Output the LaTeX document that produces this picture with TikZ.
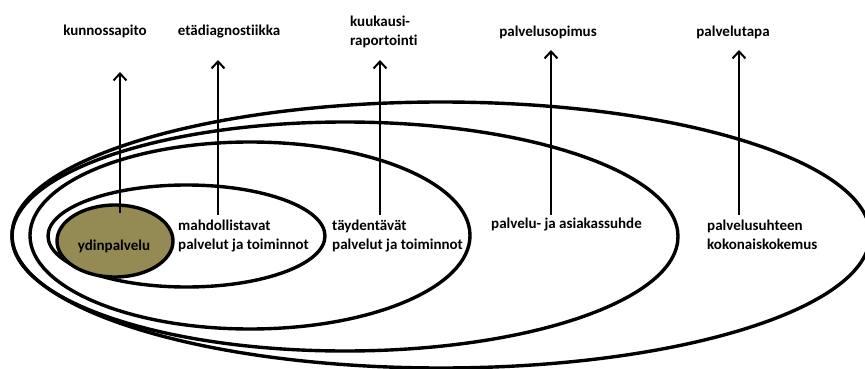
\documentclass[tikz,border=0pt]{standalone}
\usepackage{fontspec}
\setmainfont{Carlito}[Ligatures=NoCommon]
\usetikzlibrary{arrows.meta,shapes.geometric}
\definecolor{coreolive}{HTML}{948A54}
\begin{document}
\begin{tikzpicture}[x=1pt,y=-1pt,
  ring/.style={draw=black, line width=3.4pt, ellipse, inner sep=0pt, outer sep=0pt},
  lbl/.style={font=\fontsize{15}{19}\selectfont\bfseries, inner sep=0pt, align=left, text=black},
  riser/.style={line width=2pt, -{Straight Barb[length=7pt,width=13pt]}}
]
\useasboundingbox (0,0) rectangle (865,369);
\clip (0,0) rectangle (865,369);

% nested service layers, outermost first
\node[ring, minimum width=858pt, minimum height=266pt] (total) at (441,235) {};
\node[ring, minimum width=666pt, minimum height=229pt] (relation) at (345,236.5) {};
\node[ring, minimum width=440pt, minimum height=187pt] (supp) at (250,235.5) {};
\node[ring, minimum width=277pt, minimum height=102pt] (enab) at (186.5,236) {};
\node[ring, fill=coreolive, minimum width=116pt, minimum height=72pt] (core) at (115,241) {};

% layer names (base anchor sits on the last line)
\node[lbl, anchor=base] (corelbl) at (114,250) {ydinpalvelu};
\node[lbl, anchor=base west] (enablbl) at (178,249) {mahdollistavat\\palvelut ja toiminnot};
\node[lbl, anchor=base west] (supplbl) at (332,249) {täydentävät\\palvelut ja toiminnot};
\node[lbl, anchor=base west] (rellbl) at (491,228) {palvelu- ja asiakassuhde};
\node[lbl, anchor=base west] (totlbl) at (707,249) {palvelusuhteen\\kokonaiskokemus};

% examples above the layers
\node[lbl, anchor=base] (ex1) at (105,36) {kunnossapito};
\node[lbl, anchor=base] (ex2) at (229,36) {etädiagnostiikka};
\node[lbl, anchor=base west] (ex3) at (350,46) {kuukausi-\\raportointi};
\node[lbl, anchor=base] (ex4) at (548,37) {palvelusopimus};
\node[lbl, anchor=base] (ex5) at (733,37) {palvelutapa};

% risers from each layer to its example
\coordinate (s1) at (120,213); \coordinate (t1) at (120,72);
\coordinate (s2) at (218,215); \coordinate (t2) at (218,60);
\coordinate (s3) at (380,215); \coordinate (t3) at (380,60);
\coordinate (s4) at (551,215); \coordinate (t4) at (551,50);
\coordinate (s5) at (739,215); \coordinate (t5) at (739,50);
\foreach \i in {1,...,5} { \draw[riser] (s\i) -- (t\i); }
\end{tikzpicture}
\end{document}
